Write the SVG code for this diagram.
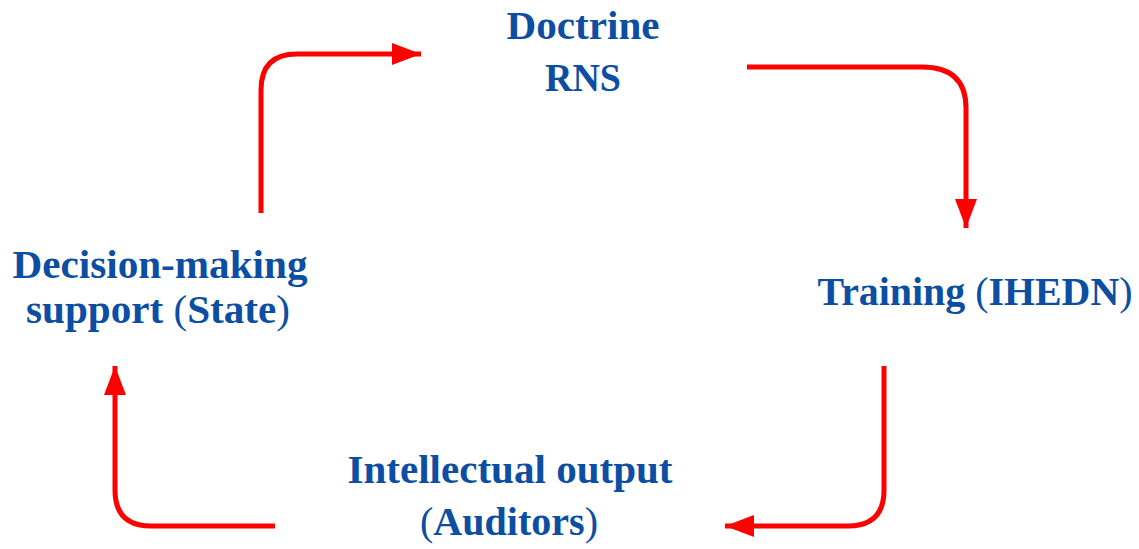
<svg xmlns="http://www.w3.org/2000/svg" width="1139" height="549" viewBox="0 0 1139 549">
<defs>
<style>
.t{font-family:"Liberation Serif","Times New Roman",serif;font-weight:bold;font-size:39px;fill:#0b4ea2}
.p{font-weight:normal}
.c{fill:none;stroke:#ff0000;stroke-width:5}
</style>
<marker id="ah" markerWidth="29" markerHeight="22" refX="29" refY="11" orient="auto" markerUnits="userSpaceOnUse">
<path d="M0,0 L29,11 L0,22 Z" fill="#ff0000"/>
</marker>
</defs>
<rect width="1139" height="549" fill="#ffffff"/>
<g id="connectors">
<path class="c" d="M261,213 V90 Q261,54 297,54 H421" marker-end="url(#ah)"/>
<path class="c" d="M747,67 H922 Q966,67 966,108 V228" marker-end="url(#ah)"/>
<path class="c" d="M884,366 V490 Q884,526 848,526 H725" marker-end="url(#ah)"/>
<path class="c" d="M275,526 H151 Q115,526 115,490 V366" marker-end="url(#ah)"/>
</g>
<g id="node-doctrine">
<text class="t" x="583" y="39" text-anchor="middle" textLength="153" lengthAdjust="spacingAndGlyphs">Doctrine</text>
<text class="t" x="583" y="91" text-anchor="middle" textLength="76" lengthAdjust="spacingAndGlyphs">RNS</text>
</g>
<g id="node-training">
<text class="t" x="975" y="305" text-anchor="middle" textLength="315" lengthAdjust="spacingAndGlyphs">Training <tspan class="p">(</tspan>IHEDN<tspan class="p">)</tspan></text>
</g>
<g id="node-output">
<text class="t" x="510" y="483" text-anchor="middle" textLength="325" lengthAdjust="spacingAndGlyphs">Intellectual output</text>
<text class="t" x="509" y="535" text-anchor="middle" textLength="178" lengthAdjust="spacingAndGlyphs"><tspan class="p">(</tspan>Auditors<tspan class="p">)</tspan></text>
</g>
<g id="node-decision">
<text class="t" x="160" y="278" text-anchor="middle" textLength="295" lengthAdjust="spacingAndGlyphs">Decision-making</text>
<text class="t" x="158" y="323" text-anchor="middle" textLength="264" lengthAdjust="spacingAndGlyphs">support <tspan class="p">(</tspan>State<tspan class="p">)</tspan></text>
</g>
</svg>
